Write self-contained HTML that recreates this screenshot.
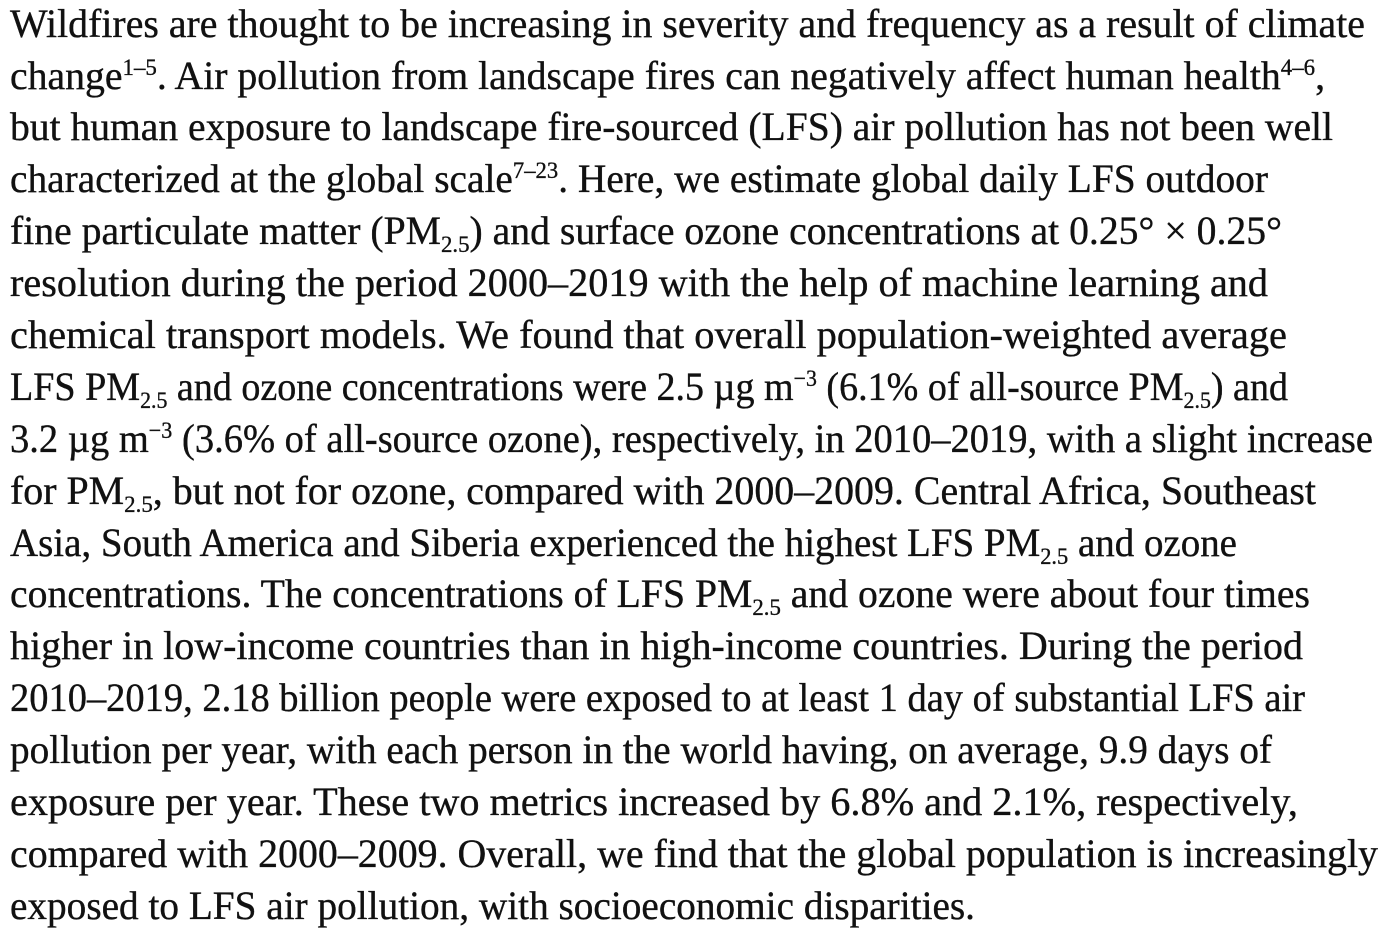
<!DOCTYPE html>
<html><head><meta charset="utf-8">
<style>
html,body{margin:0;padding:0;background:#fff;width:1388px;height:941px;overflow:hidden}
svg text{font-family:"Liberation Serif",serif;font-size:40px;fill:#111;stroke:#111;stroke-width:0.35px}
.s{font-size:23px}
</style></head>
<body>
<svg width="1388" height="941">
<text x="10" y="37" textLength="1355" lengthAdjust="spacingAndGlyphs">Wildfires are thought to be increasing in severity and frequency as a result of climate</text>
<text x="10" y="89" textLength="1315" lengthAdjust="spacingAndGlyphs">change<tspan class="s" dy="-14">1–5</tspan><tspan dy="14">. Air pollution from landscape fires can negatively affect human health</tspan><tspan class="s" dy="-14">4–6</tspan><tspan dy="14">,</tspan></text>
<text x="10" y="140" textLength="1323" lengthAdjust="spacingAndGlyphs">but human exposure to landscape fire-sourced (LFS) air pollution has not been well</text>
<text x="10" y="192" textLength="1258" lengthAdjust="spacingAndGlyphs">characterized at the global scale<tspan class="s" dy="-14">7–23</tspan><tspan dy="14">. Here, we estimate global daily LFS outdoor</tspan></text>
<text x="10" y="244" textLength="1272" lengthAdjust="spacingAndGlyphs">fine particulate matter (PM<tspan class="s" dy="8">2.5</tspan><tspan dy="-8">) and surface ozone concentrations at 0.25° × 0.25°</tspan></text>
<text x="10" y="296" textLength="1258" lengthAdjust="spacingAndGlyphs">resolution during the period 2000–2019 with the help of machine learning and</text>
<text x="10" y="348" textLength="1277" lengthAdjust="spacingAndGlyphs">chemical transport models. We found that overall population-weighted average</text>
<text x="10" y="400" textLength="1278" lengthAdjust="spacingAndGlyphs">LFS PM<tspan class="s" dy="8">2.5</tspan><tspan dy="-8"> and ozone concentrations were 2.5 µg m</tspan><tspan class="s" dy="-14">−3</tspan><tspan dy="14"> (6.1% of all-source PM</tspan><tspan class="s" dy="8">2.5</tspan><tspan dy="-8">) and</tspan></text>
<text x="10" y="452" textLength="1363" lengthAdjust="spacingAndGlyphs">3.2 µg m<tspan class="s" dy="-14">−3</tspan><tspan dy="14"> (3.6% of all-source ozone), respectively, in 2010–2019, with a slight increase</tspan></text>
<text x="10" y="504" textLength="1306" lengthAdjust="spacingAndGlyphs">for PM<tspan class="s" dy="8">2.5</tspan><tspan dy="-8">, but not for ozone, compared with 2000–2009. Central Africa, Southeast</tspan></text>
<text x="10" y="556" textLength="1227" lengthAdjust="spacingAndGlyphs">Asia, South America and Siberia experienced the highest LFS PM<tspan class="s" dy="8">2.5</tspan><tspan dy="-8"> and ozone</tspan></text>
<text x="10" y="607" textLength="1300" lengthAdjust="spacingAndGlyphs">concentrations. The concentrations of LFS PM<tspan class="s" dy="8">2.5</tspan><tspan dy="-8"> and ozone were about four times</tspan></text>
<text x="10" y="659" textLength="1293" lengthAdjust="spacingAndGlyphs">higher in low-income countries than in high-income countries. During the period</text>
<text x="10" y="711" textLength="1295" lengthAdjust="spacingAndGlyphs">2010–2019, 2.18 billion people were exposed to at least 1 day of substantial LFS air</text>
<text x="10" y="763" textLength="1262" lengthAdjust="spacingAndGlyphs">pollution per year, with each person in the world having, on average, 9.9 days of</text>
<text x="10" y="815" textLength="1288" lengthAdjust="spacingAndGlyphs">exposure per year. These two metrics increased by 6.8% and 2.1%, respectively,</text>
<text x="10" y="867" textLength="1368" lengthAdjust="spacingAndGlyphs">compared with 2000–2009. Overall, we find that the global population is increasingly</text>
<text x="10" y="919" textLength="965" lengthAdjust="spacingAndGlyphs">exposed to LFS air pollution, with socioeconomic disparities.</text>
</svg>
</body></html>
